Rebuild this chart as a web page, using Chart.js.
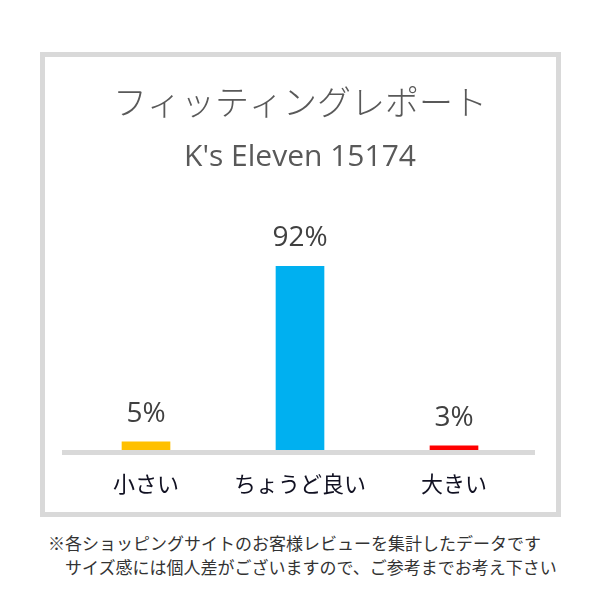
<!DOCTYPE html>
<html lang="ja">
<head>
    <meta charset="UTF-8">
    <title>フィッティングレポート</title>
    <script src="https://cdn.jsdelivr.net/npm/chart.js"></script>
    <style>
        body {
            margin: 0;
            background: #ffffff;
            width: 600px;
            height: 600px;
            position: relative;
            overflow: hidden;
        }
        .box {
            position: absolute;
            left: 40px;
            top: 52px;
            width: 511px;
            height: 455px;
            border: 5px solid #d9d9d9;
        }
        .note {
            position: absolute;
            left: 48px;
            top: 531px;
            font-family: "Noto Sans CJK JP", sans-serif;
            font-size: 17px;
            line-height: 24px;
            color: #333333;
            white-space: pre;
        }
    </style>
</head>
<body>
    <div class="box">
        <canvas id="fitChart" width="511" height="455"></canvas>
    </div>
    <div class="note">※各ショッピングサイトのお客様レビューを集計したデータです
　サイズ感には個人差がございますので、ご参考までお考え下さい</div>

    <script>
        // data
        const categories = ['小さい', 'ちょうど良い', '大きい'];
        const percents = [5, 92, 3];
        const barColors = ['#FFC000', '#00B0F0', '#FF0000'];
        const titleText = 'フィッティングレポート';
        const subtitleText = "K's Eleven 15174";

        // value labels above each bar + grey baseline on top of the bars
        const barLabels = {
            id: 'barLabels',
            afterDatasetsDraw(chart) {
                const ctx = chart.ctx;
                const area = chart.chartArea;
                const y0 = chart.scales.y.getPixelForValue(0);
                ctx.save();
                ctx.strokeStyle = '#d9d9d9';
                ctx.lineWidth = 5;
                ctx.beginPath();
                ctx.moveTo(area.left - 7, y0 + 0.5);
                ctx.lineTo(area.right + 4, y0 + 0.5);
                ctx.stroke();

                ctx.font = '28px "Open Sans", sans-serif';
                ctx.fillStyle = '#404040';
                ctx.textAlign = 'center';
                ctx.textBaseline = 'alphabetic';
                chart.getDatasetMeta(0).data.forEach((bar, i) => {
                    ctx.fillText(percents[i] + '%', bar.x, bar.y - 20);
                });
                ctx.restore();
            }
        };

        new Chart(document.getElementById('fitChart'), {
            type: 'bar',
            data: {
                labels: categories,
                datasets: [{
                    data: percents,
                    backgroundColor: barColors,
                    borderWidth: 0,
                    barThickness: 48
                }]
            },
            options: {
                responsive: false,
                animation: false,
                layout: { padding: { left: 24, right: 25, top: 0, bottom: -2.4 } },
                plugins: {
                    legend: { display: false },
                    tooltip: { enabled: false },
                    title: {
                        display: true,
                        text: titleText,
                        color: '#595959',
                        font: { family: '"Noto Sans CJK JP", sans-serif', size: 34, weight: '300' },
                        padding: { top: 25, bottom: 17 }
                    },
                    subtitle: {
                        display: true,
                        text: subtitleText,
                        color: '#595959',
                        font: { family: '"Open Sans", sans-serif', size: 30, weight: 'normal' },
                        padding: { top: 0, bottom: 74.4 }
                    }
                },
                scales: {
                    x: {
                        grid: { display: false, drawTicks: false },
                        border: { display: false },
                        ticks: {
                            color: '#111122',
                            padding: 18,
                            font: { family: '"Noto Sans CJK JP", sans-serif', size: 22, weight: 'normal' }
                        }
                    },
                    y: {
                        display: false,
                        min: 0,
                        max: 100
                    }
                }
            },
            plugins: [barLabels]
        });
    </script>
</body>
</html>
